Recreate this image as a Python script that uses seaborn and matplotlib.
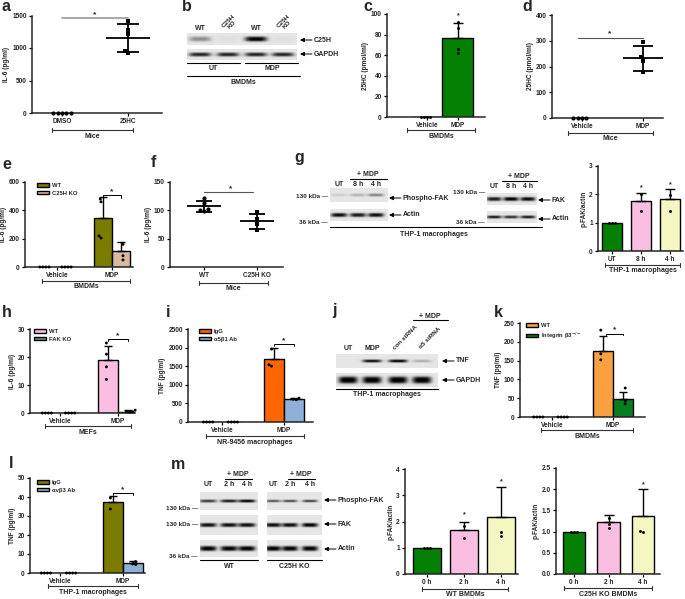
import numpy as np
import pandas as pd
import matplotlib
matplotlib.use("Agg")
import matplotlib.pyplot as plt
import seaborn as sns

# ---------------- DATA ----------------
# a
a_cats = ["DMSO", "25HC"]
a_dmso = [0, 0, 0, 0, 0]
a_25hc = [1410, 1280, 1210, 960, 920]
a_sig = 1460
# b (blot band intensities)
b_lanes = ["WT", "C25H\nKO", "WT", "C25H\nKO"]
b_c25h = [0.35, 0.03, 0.95, 0.03]
b_gapdh = [0.8, 0.8, 0.8, 0.8]
# c
c_cats = ["Vehicle", "MDP"]
c_mean = [0, 76.5]
c_sd = [0, 14.7]
c_pts = [[0, 0, 0, 0], [92, 86, 66, 62]]
c_star = [None, 98]
# d
d_cats = ["Vehicle", "MDP"]
d_veh = [0, 0, 0, 0]
d_mdp = [295, 235, 220, 178]
d_sig = 312
# e
e_cats = ["Vehicle", "MDP"]
e_hues = ["WT", "C25H KO"]
e_mean = {"WT": [0, 345], "C25H KO": [0, 110]}
e_sd = {"WT": [0, 147], "C25H KO": [0, 65]}
e_pts = {"WT": [[0, 0, 0, 0], [480, 460, 220, 205]], "C25H KO": [[0, 0, 0, 0], [160, 80, 50]]}
e_sig = 505
# f
f_cats = ["WT", "C25H KO"]
f_wt = [122, 113, 101, 99, 102]
f_ko = [97, 85, 76, 65]
f_sig = 132
# g
g_ptfak = [0.1, 0.2, 0.4]
g_actin1 = [0.9, 0.85, 0.9]
g_fak = [0.85, 0.95, 0.9]
g_actin2 = [0.85, 0.75, 0.85]
g_cats = ["UT", "8 h", "4 h"]
g_mean = [1.0, 1.76, 1.84]
g_sd = [0, 0.3, 0.36]
g_pts = [[1, 1, 1], [2.0, 1.41], [1.98, 1.41]]
g_star = [None, 2.25, 2.33]
# h
h_cats = ["Vehicle", "MDP"]
h_hues = ["WT", "FAK KO"]
h_mean = {"WT": [0, 18.8], "FAK KO": [0, 0.5]}
h_sd = {"WT": [0, 5.2], "FAK KO": [0, 0.5]}
h_pts = {"WT": [[0, 0, 0, 0], [25, 21, 16.5, 12]], "FAK KO": [[0, 0, 0, 0], [1.0, 0.6, 0.4, 0.3]]}
h_sig = 26.5
# i
i_cats = ["Vehicle", "MDP"]
i_hues = ["IgG", "α5β1 Ab"]
i_mean = {"IgG": [0, 1690], "α5β1 Ab": [0, 618]}
i_sd = {"IgG": [0, 290], "α5β1 Ab": [0, 20]}
i_pts = {"IgG": [[0, 0, 0, 0], [1960, 1540, 1500]], "α5β1 Ab": [[0, 0, 0, 0], [640, 615, 600]]}
i_sig = 2090
# j
j_lanes = ["UT", "MDP", "con siRNA", "α5 siRNA"]
j_tnf = [0.0, 0.9, 0.95, 0.22]
j_gapdh = [1.0, 1.0, 1.0, 1.0]
# k
k_cats = ["Vehicle", "MDP"]
k_hues = ["WT", "Integrin β3$^{-/-}$"]
k_mean = {"WT": [0, 176], "Integrin β3$^{-/-}$": [0, 48]}
k_sd = {"WT": [0, 39], "Integrin β3$^{-/-}$": [0, 19]}
k_pts = {"WT": [[0, 0, 0, 0], [231, 168, 152]], "Integrin β3$^{-/-}$": [[0, 0, 0, 0], [77, 43, 35]]}
k_sig = 222
# l
l_cats = ["Vehicle", "MDP"]
l_hues = ["IgG", "αvβ3 Ab"]
l_mean = {"IgG": [0, 37.4], "αvβ3 Ab": [0, 5.2]}
l_sd = {"IgG": [0, 3.0], "αvβ3 Ab": [0, 1.1]}
l_pts = {"IgG": [[0, 0, 0, 0], [39.5, 33.7]], "αvβ3 Ab": [[0, 0, 0, 0], [6.0, 4.8, 4.4]]}
l_sig = 42
# m blots
m_wt_pfak = [0.7, 0.85, 0.95]
m_wt_fak = [0.9, 0.9, 0.9]
m_wt_actin = [0.95, 0.95, 0.95]
m_ko_pfak = [0.6, 0.65, 0.7]
m_ko_fak = [0.9, 0.9, 0.95]
m_ko_actin = [0.95, 0.95, 0.95]
# m bars
m_cats = ["0 h", "2 h", "4 h"]
m1_mean = [1.0, 1.68, 2.18]
m1_sd = [0, 0.3, 1.13]
m1_pts = [[1, 1, 1], [1.83, 1.37], [1.6, 1.45]]
m1_star = [None, 2.25, 3.5]
m2_mean = [1.0, 1.23, 1.36]
m2_sd = [0, 0.16, 0.64]
m2_pts = [[1, 1, 1], [1.32, 1.18, 1.08], [1.01, 1.0]]
m2_star = [None, None, 2.1]

GREEN = "#058005"
PINK = "#fabfe0"
YELLOW = "#f5f7c2"

# ---------------- SETUP ----------------
sns.set_theme(style="ticks")
plt.rcParams["font.family"] = ["Liberation Sans", "DejaVu Sans"]
plt.rcParams["font.weight"] = "bold"
plt.rcParams["axes.labelweight"] = "bold"
plt.rcParams["mathtext.default"] = "bf"

W, H = 685, 599
fig = plt.figure(figsize=(W / 100, H / 100), dpi=100)
ov = fig.add_axes([0, 0, 1, 1], zorder=0)
ov.axis("off")

FS_TICK = 4.7
FS_TXT = 5.0


def make_ax(x0, x1, ytop, ybot):
    ax = fig.add_axes([x0 / W, 1 - ybot / H, (x1 - x0) / W, (ybot - ytop) / H], zorder=2)
    ax.patch.set_visible(False)
    return ax


def finish(ax, x0, x1, cat_px, ymax, yticks, ylabel):
    unit = cat_px[1] - cat_px[0]
    ax.set_xlim((x0 - cat_px[0]) / unit, (x1 - cat_px[0]) / unit)
    ax.set_ylim(0, ymax)
    ax.set_yticks(yticks)
    sns.despine(ax=ax)
    for s in ("left", "bottom"):
        ax.spines[s].set_linewidth(1.1)
    ax.tick_params(width=0.9, length=2.5, labelsize=FS_TICK, pad=1.2, color="black")
    ax.set_xlabel("")
    ax.set_ylabel(ylabel, fontsize=FS_TICK, labelpad=1.5)
    for c in ax.collections:
        c.set_clip_on(False)
    for ln in ax.lines:
        ln.set_clip_on(False)


def scatter_panel(ax, cats, groups, markers):
    for i, (pts, mk) in enumerate(zip(groups, markers)):
        df = pd.DataFrame({"g": [cats[i]] * len(pts), "v": pts})
        sns.swarmplot(data=df, x="g", y="v", order=cats, color="black", marker=mk,
                      size=3.0, ax=ax)
        m = np.mean(pts)
        s = np.std(pts, ddof=1)
        if s > 0:
            ax.hlines(m, i - 0.33, i + 0.33, color="black", lw=1.3)
            ax.vlines(i, m - s, m + s, color="black", lw=1.3)
            ax.hlines([m - s, m + s], i - 0.16, i + 0.16, color="black", lw=1.3)


def hue_bars(ax, cats, hues, means, sds, pts, colors, width):
    rows = [(c, h, means[h][i]) for h in hues for i, c in enumerate(cats)]
    dfb = pd.DataFrame(rows, columns=["cat", "grp", "val"])
    sns.barplot(data=dfb, x="cat", y="val", hue="grp", order=cats, hue_order=hues,
                palette=dict(zip(hues, colors)), width=width, errorbar=None,
                edgecolor="black", linewidth=1.0, saturation=1, ax=ax)
    prow = [(c, h, v) for h in hues for i, c in enumerate(cats) for v in pts[h][i]]
    dfp = pd.DataFrame(prow, columns=["cat", "grp", "val"])
    sns.swarmplot(data=dfp, x="cat", y="val", hue="grp", order=cats, hue_order=hues,
                  dodge=True, palette={h: "black" for h in hues}, size=2.1,
                  legend=False, ax=ax)
    n = len(hues)
    pos = {}
    for j, h in enumerate(hues):
        for i, c in enumerate(cats):
            p = i + (j - (n - 1) / 2) * width / n
            pos[(h, c)] = p
            if sds[h][i] > 0:
                ax.errorbar(p, means[h][i], yerr=[[0], [sds[h][i]]], fmt="none",
                            ecolor="black", elinewidth=1.0, capsize=3, capthick=1.0)
    return pos


def single_bars(ax, cats, means, sds, pts, colors, width, stars):
    dfb = pd.DataFrame({"cat": cats, "val": means})
    sns.barplot(data=dfb, x="cat", y="val", hue="cat", order=cats, hue_order=cats,
                palette=dict(zip(cats, colors)), width=width, errorbar=None, dodge=False,
                edgecolor="black", linewidth=1.0, saturation=1, legend=False, ax=ax)
    prow = [(c, v) for i, c in enumerate(cats) for v in pts[i]]
    dfp = pd.DataFrame(prow, columns=["cat", "val"])
    sns.swarmplot(data=dfp, x="cat", y="val", order=cats, color="black", size=2.1, ax=ax)
    for i, c in enumerate(cats):
        if sds[i] > 0:
            ax.errorbar(i, means[i], yerr=[[0], [sds[i]]], fmt="none", ecolor="black",
                        elinewidth=1.0, capsize=3.5, capthick=1.0)
        if stars[i] is not None:
            ax.text(i, stars[i], "*", ha="center", va="center", fontsize=5)


def sig_bracket(ax, p0, p1, y, drop):
    ax.plot([p0, p0, p1, p1], [y - drop, y, y, y - drop], color="black", lw=0.7, clip_on=False)
    ax.text((p0 + p1) / 2, y, "*", ha="center", va="bottom", fontsize=6)


def legend_at(ax, n, x, y):
    hd, lb = ax.get_legend_handles_labels()
    ax.legend(hd[:n], lb[:n], loc="upper left", bbox_to_anchor=(x / W, 1 - y / H),
              bbox_transform=fig.transFigure, frameon=False, fontsize=4.2,
              handlelength=2.0, handleheight=0.55, labelspacing=0.45, handletextpad=0.5,
              borderaxespad=0, borderpad=0)


def bracket(xa, xb, y, text, dy=6):
    ov.plot([xa, xb], [y, y], color="#333333", lw=0.8)
    ov.plot([xa, xa], [y - 2, y + 2], color="#333333", lw=0.8)
    ov.plot([xb, xb], [y - 2, y + 2], color="#333333", lw=0.8)
    ov.text((xa + xb) / 2, y + dy, text, ha="center", va="center", fontsize=FS_TXT)


def blot(x0, x1, y0, y1, lanes, vals, bw, bh, bg=0.9):
    nx, ny = int((x1 - x0) * 4), int((y1 - y0) * 4)
    X, Y = np.meshgrid(np.linspace(x0, x1, nx), np.linspace(y0, y1, ny))
    img = np.full(X.shape, bg)
    yc = (y0 + y1) / 2
    for lx, v in zip(lanes, vals):
        img -= 0.95 * v * np.exp(-np.abs((X - lx) / (bw / 2)) ** 4) * np.exp(-np.abs((Y - yc) / (bh / 2)) ** 3)
    ov.imshow(np.clip(img, 0, 1), extent=(x0, x1, y1, y0), cmap="gray", vmin=0, vmax=1,
              aspect="auto", interpolation="bilinear", zorder=1)


def arrow_label(xtip, y, text):
    ov.annotate("", xy=(xtip, y), xytext=(xtip + 12, y),
                arrowprops=dict(arrowstyle="-|>", color="black", lw=0.7, mutation_scale=6,
                                shrinkA=0, shrinkB=0))
    ov.text(xtip + 14, y, text, ha="left", va="center", fontsize=FS_TXT)


def txt(x, y, s, **kw):
    kw.setdefault("fontsize", FS_TXT)
    kw.setdefault("ha", "center")
    kw.setdefault("va", "center")
    ov.text(x, y, s, **kw)


def line(xa, xb, y, lw=0.8, color="black"):
    ov.plot([xa, xb], [y, y], color=color, lw=lw)


# ---------------- PANEL a ----------------
ax = make_ax(32, 162, 15.5, 113)
scatter_panel(ax, a_cats, [a_dmso, a_25hc], ["o", "s"])
ax.plot([0, 1], [a_sig, a_sig], color="#999999", lw=1.2)
ax.text(0.5, a_sig, "*", ha="center", va="bottom", fontsize=6)
finish(ax, 32, 162, [62, 128], 1500, [0, 500, 1000, 1500], "IL-6 (pg/ml)")
bracket(52, 133, 130, "Mice")

# ---------------- PANEL b ----------------
b_px = [200, 228, 256, 283]
blot(187, 297, 33, 45, b_px, b_c25h, 22, 5)
blot(187, 297, 49, 60, b_px, b_gapdh, 22, 4)
for x, s in zip(b_px, b_lanes):
    if "\n" in s:
        txt(x + 2, 23, s, rotation=45, fontsize=4.6, linespacing=1.0)
    else:
        txt(x, 28, s)
arrow_label(300, 40, "C25H")
arrow_label(300, 54, "GAPDH")
line(187, 240, 63)
line(245, 298, 63)
txt(213, 68.5, "UT")
txt(272, 68.5, "MDP")
line(187, 300, 76)
txt(243, 82, "BMDMs")

# ---------------- PANEL c ----------------
ax = make_ax(387, 485, 14, 117)
single_bars(ax, c_cats, c_mean, c_sd, c_pts, [GREEN, GREEN], 1.0, c_star)
finish(ax, 387, 485, [427, 458], 100, [0, 20, 40, 60, 80, 100], "25HC (pmol/ml)")
bracket(407, 475, 130, "BMDMs")

# ---------------- PANEL d ----------------
ax = make_ax(552, 663, 15, 118)
scatter_panel(ax, d_cats, [d_veh, d_mdp], ["o", "s"])
ax.plot([-0.07, 1], [d_sig, d_sig], color="#555555", lw=0.8)
ax.text(0.46, d_sig, "*", ha="center", va="bottom", fontsize=6)
finish(ax, 552, 663, [582, 643], 400, [0, 100, 200, 300, 400], "25HC (pmol/ml)")
bracket(568, 653, 133, "Mice")

# ---------------- PANEL e ----------------
ax = make_ax(25, 133, 182, 267)
pos = hue_bars(ax, e_cats, e_hues, e_mean, e_sd, e_pts, ["#7b7b00", "#dbb8a0"], 0.66)
sig_bracket(ax, pos[(e_hues[0], "MDP")], pos[(e_hues[1], "MDP")], e_sig, 15)
legend_at(ax, 2, 37, 183)
finish(ax, 25, 133, [57, 112], 600, [0, 200, 400, 600], "IL-6 (pg/ml)")
bracket(42, 130, 281, "BMDMs")

# ---------------- PANEL f ----------------
ax = make_ax(170, 283, 182, 267)
scatter_panel(ax, f_cats, [f_wt, f_ko], ["o", "s"])
ax.plot([0, 0.92], [f_sig, f_sig], color="#555555", lw=0.8)
ax.text(0.5, f_sig, "*", ha="center", va="bottom", fontsize=6)
finish(ax, 170, 283, [204, 257], 150, [0, 50, 100, 150], "IL-6 (pg/ml)")
bracket(199, 268, 283, "Mice")

# ---------------- PANEL g ----------------
g1 = [339, 358, 376]
blot(330, 388, 188, 202, g1, g_ptfak, 16, 3)
blot(330, 388, 209, 221, g1, g_actin1, 16, 4)
for x, s in zip(g1, g_cats):
    txt(x, 184, s)
txt(368, 175, "+ MDP")
line(350, 387, 179)
txt(328, 196, "130 kDa —", ha="right", fontsize=4.6)
txt(328, 222, "36 kDa —", ha="right", fontsize=4.6)
arrow_label(389, 198, "Phospho-FAK")
arrow_label(389, 215, "Actin")
g2 = [494, 511, 528]
blot(487, 537, 193, 205, g2, g_fak, 15, 4)
blot(487, 537, 211, 223, g2, g_actin2, 15, 3)
for x, s in zip(g2, g_cats):
    txt(x, 187, s)
txt(519, 177, "+ MDP")
line(502, 537, 181)
txt(485, 193, "130 kDa —", ha="right", fontsize=4.6)
txt(485, 223, "36 kDa —", ha="right", fontsize=4.6)
arrow_label(538, 200, "FAK")
arrow_label(538, 219, "Actin")
line(330, 542, 227)
txt(434, 234, "THP-1 macrophages")

ax = make_ax(598, 683, 166, 251)
single_bars(ax, g_cats, g_mean, g_sd, g_pts, [GREEN, PINK, YELLOW], 0.69, g_star)
finish(ax, 598, 683, [612, 641], 3, [0, 1, 2, 3], "p-FAK/actin")
bracket(605, 680, 265, "THP-1 macrophages")

# ---------------- PANEL h ----------------
ax = make_ax(30, 135, 329, 413)
pos = hue_bars(ax, h_cats, h_hues, h_mean, h_sd, h_pts, ["#fbbde0", "#6d8f6e"], 0.68)
sig_bracket(ax, pos[(h_hues[0], "MDP")], pos[(h_hues[1], "MDP")], h_sig, 0.8)
legend_at(ax, 2, 34, 329)
finish(ax, 30, 135, [60, 118], 30, [0, 10, 20, 30], "IL-6 (pg/ml)")
bracket(45, 131, 426, "MEFs")

# ---------------- PANEL i ----------------
ax = make_ax(188, 313, 329, 422)
pos = hue_bars(ax, i_cats, i_hues, i_mean, i_sd, i_pts, ["#ff6600", "#8eb0d8"], 0.65)
sig_bracket(ax, pos[(i_hues[0], "MDP")], pos[(i_hues[1], "MDP")], i_sig, 60)
legend_at(ax, 2, 199, 329)
finish(ax, 188, 313, [222, 284], 2500, [0, 500, 1000, 1500, 2000, 2500], "TNF (pg/ml)")
bracket(206, 304, 436, "NR-9456 macrophages")

# ---------------- PANEL j ----------------
j_px = [348, 372, 398, 422]
blot(336, 438, 354, 368, j_px, j_tnf, 19, 3)
blot(336, 438, 373, 387, j_px, j_gapdh, 19, 7)
txt(348, 348, j_lanes[0])
txt(372, 348, j_lanes[1])
txt(405, 338, j_lanes[2], rotation=45, fontsize=4.6)
txt(430, 338, j_lanes[3], rotation=45, fontsize=4.6)
txt(430, 316, "+ MDP")
line(413, 448, 320)
arrow_label(442, 361, "TNF")
arrow_label(442, 380, "GAPDH")
line(336, 438, 389)
txt(387, 395, "THP-1 macrophages")

# ---------------- PANEL k ----------------
ax = make_ax(520, 645, 323, 417)
pos = hue_bars(ax, k_cats, k_hues, k_mean, k_sd, k_pts, ["#f9a040", "#067d1f"], 0.66)
sig_bracket(ax, pos[(k_hues[0], "MDP")] + 0.05, pos[(k_hues[1], "MDP")], k_sig, 5)
legend_at(ax, 2, 526, 323)
finish(ax, 520, 645, [552, 613], 250, [0, 50, 100, 150, 200, 250], "TNF (pg/ml)")
bracket(541, 633, 430, "BMDMs")

# ---------------- PANEL l ----------------
ax = make_ax(30, 145, 478, 573)
pos = hue_bars(ax, l_cats, l_hues, l_mean, l_sd, l_pts, ["#7b7b00", "#8eb0d8"], 0.63)
sig_bracket(ax, pos[(l_hues[0], "MDP")], pos[(l_hues[1], "MDP")], l_sig, 1.2)
legend_at(ax, 2, 37, 480)
finish(ax, 30, 145, [60, 123], 50, [0, 10, 20, 30, 40, 50], "TNF (pg/ml)")
bracket(48, 138, 586, "THP-1 macrophages")

# ---------------- PANEL m ----------------
mw = [208, 229, 247]
mk = [273, 290, 310]
blot(200, 258, 492, 510, mw, m_wt_pfak, 17, 3)
blot(200, 258, 515, 535, mw, m_wt_fak, 17, 4)
blot(200, 258, 540, 557, mw, m_wt_actin, 17, 5)
blot(267, 322, 492, 510, mk, m_ko_pfak, 15, 2.5)
blot(267, 322, 515, 535, mk, m_ko_fak, 16, 4)
blot(267, 322, 540, 557, mk, m_ko_actin, 16, 5)
for x, s in zip(mw, ["UT", "2 h", "4 h"]):
    txt(x, 485, s)
for x, s in zip(mk, ["UT", "2 h", "4 h"]):
    txt(x, 485, s)
txt(238, 475, "+ MDP")
line(225, 252, 479)
txt(301, 475, "+ MDP")
line(288, 315, 479)
txt(198, 508, "130 kDa —", ha="right", fontsize=4.6)
txt(198, 525, "130 kDa —", ha="right", fontsize=4.6)
txt(198, 557, "36 kDa —", ha="right", fontsize=4.6)
arrow_label(324, 500, "Phospho-FAK")
arrow_label(324, 524, "FAK")
arrow_label(324, 549, "Actin")
line(200, 258, 560)
txt(229, 566, "WT")
line(267, 322, 560)
txt(294, 566, "C25H KO")

ax = make_ax(405, 518, 469, 574)
single_bars(ax, m_cats, m1_mean, m1_sd, m1_pts, [GREEN, PINK, YELLOW], 0.74, m1_star)
finish(ax, 405, 518, [427, 464], 4, [0, 1, 2, 3, 4], "p-FAK/actin")
bracket(422, 508, 589, "WT BMDMs", dy=6)

ax = make_ax(556, 660, 468, 574)
single_bars(ax, m_cats, m2_mean, m2_sd, m2_pts, [GREEN, PINK, YELLOW], 0.65, m2_star)
finish(ax, 556, 660, [574, 608.5], 2.5, [0.0, 0.5, 1.0, 1.5, 2.0, 2.5], "p-FAK/actin")
bracket(564, 652, 588, "C25H KO BMDMs", dy=6)

# ---------------- panel letters ----------------
letters = [("a", 2, 11), ("b", 182, 11), ("c", 363, 11), ("d", 522, 11),
           ("e", 2, 169), ("f", 151, 167), ("g", 294, 162),
           ("h", 2, 317), ("i", 166, 317), ("j", 332, 315), ("k", 494, 317),
           ("l", 9, 468), ("m", 171, 469)]
for s, x, y in letters:
    ov.text(x, y, s, ha="left", va="baseline", fontsize=11.5, fontweight="bold")

ov.set_xlim(0, W)
ov.set_ylim(H, 0)
fig.savefig("out.png", dpi=100)
